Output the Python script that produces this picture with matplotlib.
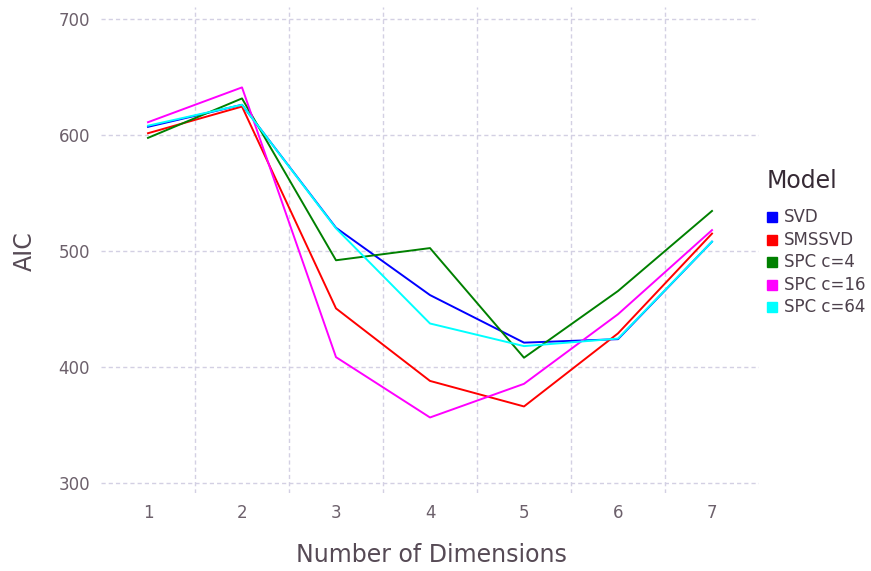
import matplotlib
matplotlib.use("Agg")
import matplotlib.pyplot as plt
from matplotlib.patches import Rectangle

dims = [1, 2, 3, 4, 5, 6, 7]
models = ["SVD", "SMSSVD", "SPC c=4", "SPC c=16", "SPC c=64"]
colors = ["#0000ff", "#ff0000", "#008000", "#ff00ff", "#00ffff"]
svd = [607, 626, 520, 462, 421, 424, 508]
smssvd = [601.5, 624.5, 450.5, 388, 366, 429, 515]
spc4 = [597.5, 631.5, 492, 502.5, 408, 465.5, 534.5]
spc16 = [611, 641, 408.5, 356.5, 385.5, 445.5, 518]
spc64 = [608, 626, 519.5, 437.5, 418, 424.5, 508]
series = [svd, smssvd, spc4, spc16, spc64]
yticks = [300, 400, 500, 600, 700]

plt.rcParams['font.family'] = ['DejaVu Sans']
fig = plt.figure(figsize=(8.71, 5.71), dpi=100)
ax = fig.add_axes([101/871, 1-493/571, (759-101)/871, (493-7)/571])

gridc = "#d3d0e3"
for y in yticks:
    ax.axhline(y, color=gridc, lw=1.0, ls=(0, (3.0, 2.2)), zorder=0)
for x in [d + 0.5 for d in dims[:-1]]:
    ax.axvline(x, color=gridc, lw=1.0, ls=(0, (3.0, 2.2)), zorder=0)

for vals, c in zip(series, colors):
    ax.plot(dims, vals, color=c, lw=1.4, zorder=2)

ax.set_xlim(0.5, 7.5)
ax.set_ylim(291.4, 710.3)
ax.set_xticks(dims)
ax.set_yticks(yticks)
ax.tick_params(length=0, labelsize=12, labelcolor="#6c606b")
ax.tick_params(axis='x', pad=8)
ax.tick_params(axis='y', pad=8)
for s in ax.spines.values():
    s.set_visible(False)

fig.text(431/871, 1-555/571, "Number of Dimensions", ha="center", va="center",
         fontsize=17, color="#564a55")
fig.text(25/871, 1-251/571, "AIC", ha="center", va="center", rotation=90,
         fontsize=17, color="#564a55")

fig.text(767/871, 1-181/571, "Model", ha="left", va="center", fontsize=17, color="#362a35")
y0 = 217
for i, (m, c) in enumerate(zip(models, colors)):
    yy = y0 + i * 22.5
    fig.patches.append(Rectangle((767/871, 1-(yy+5)/571), 10/871, 10/571,
                                 transform=fig.transFigure, color=c))
    fig.text(784/871, 1-yy/571, m, ha="left", va="center", fontsize=12, color="#4c404b")

fig.savefig("out.png", dpi=100)
